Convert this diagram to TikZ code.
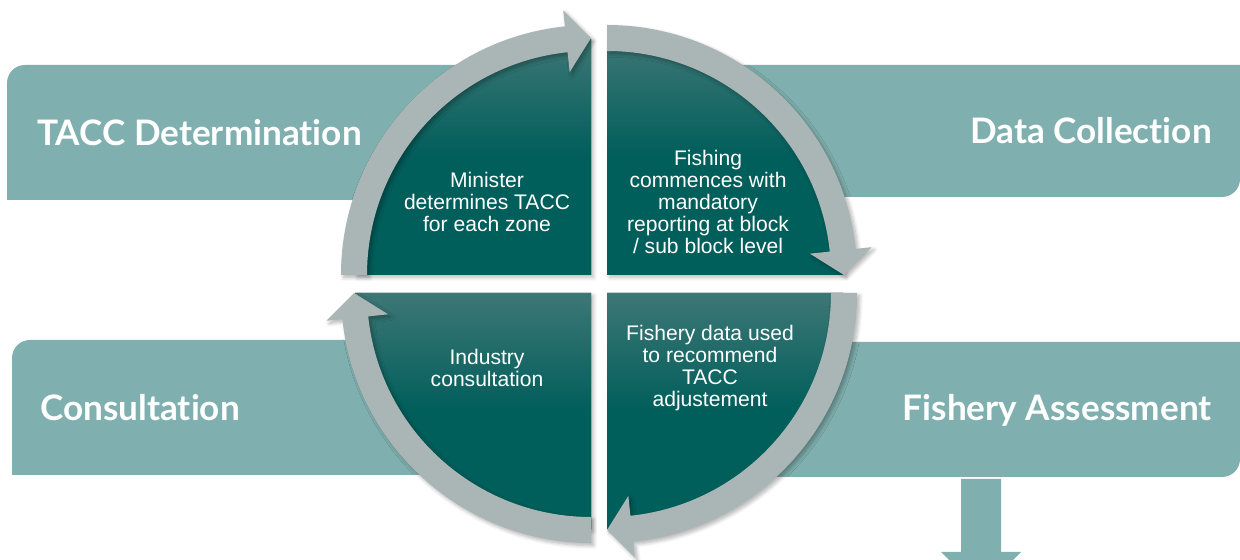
\documentclass[tikz,border=0pt]{standalone}
\usepackage{fontspec}
\setmainfont{Liberation Sans}
\newfontfamily\headfont[Ligatures=NoCommon]{Lato}
\usetikzlibrary{shadows.blur}

\definecolor{bannerteal}{HTML}{7FAFAE}
\definecolor{quartertop}{HTML}{3D7776}
\definecolor{quarterdark}{HTML}{005E5B}
\definecolor{ringgray}{HTML}{AAB6B5}

\begin{document}
\begin{tikzpicture}[x=0.02cm,y=0.02cm]
\tikzstyle{banner}=[fill=bannerteal]
\tikzstyle{quarter}=[top color=quartertop, bottom color=quarterdark, middle color=quarterdark,
  blur shadow={shadow xshift=1.5pt, shadow yshift=-1.5pt, shadow blur steps=6, shadow opacity=25}]
\tikzstyle{ring}=[fill=ringgray,
  blur shadow={shadow xshift=1.5pt, shadow yshift=-1.5pt, shadow blur steps=6, shadow opacity=30}]
\tikzstyle{heading}=[font=\headfont\bfseries\fontsize{20}{23}\selectfont, text=white, inner sep=0pt]
\tikzstyle{quartertext}=[font=\fontsize{12}{12.6}\selectfont, text=white, align=center]

\clip (0,0) rectangle (1240,560);

% banners behind the cycle
\fill[banner] (520,360) -- (7,360) -- (7,477) arc[start angle=180,end angle=90,radius=18] -- (520,495) -- cycle;
\fill[banner] (680,495) -- (1240,495) -- (1240,381) arc[start angle=0,end angle=-90,radius=18] -- (680,363) -- cycle;
\fill[banner] (520,85) -- (12,85) -- (12,202) arc[start angle=180,end angle=90,radius=18] -- (520,220) -- cycle;
\fill[banner] (680,218) -- (1240,218) -- (1240,101) arc[start angle=0,end angle=-90,radius=18] -- (680,83) -- cycle;

% arrow out of the assessment
\fill[banner] (961,81) -- (961,8) -- (941,8) -- (981,-32) -- (1021,8) -- (1001,8) -- (1001,81) -- cycle;

% four quarters, each with its curved arrow (clockwise)
\foreach \cx/\cy/\a in {591/285/180, 607/285/90, 607/267/0, 591/267/270} {
  \pgfmathsetmacro\b{\a-84}
  \pgfmathsetmacro\e{\a-90}
  \begin{scope}[shift={(\cx,\cy)}]
    \fill[quarter] (0,0) -- (\a:236) arc[start angle=\a,end angle=\e,radius=236] -- cycle;
    \fill[ring] (\a:224) arc[start angle=\a,end angle=\b,radius=224] -- (\b:204) -- (\e:237)
      -- (\b:266) -- (\b:250) arc[start angle=\b,end angle=\a,radius=250] -- cycle;
  \end{scope}
}

\node[heading, anchor=west] (tacc) at (37,427) {TACC Determination};
\node[heading, anchor=east] (data) at (1212,429) {Data Collection};
\node[heading, anchor=west] (consult) at (40,152) {Consultation};
\node[heading, anchor=east] (assess) at (1212,150) {Fishery Assessment};

\node[quartertext] (minister) at (487,358) {Minister\\determines TACC\\for each zone};
\node[quartertext] (fishing) at (708,358) {Fishing\\commences with\\mandatory\\reporting at block\\/ sub block level};
\node[quartertext] (industry) at (487,192) {Industry\\consultation};
\node[quartertext] (fishery) at (710,192) {Fishery data used\\to recommend\\TACC\\adjustement};
\end{tikzpicture}
\end{document}
